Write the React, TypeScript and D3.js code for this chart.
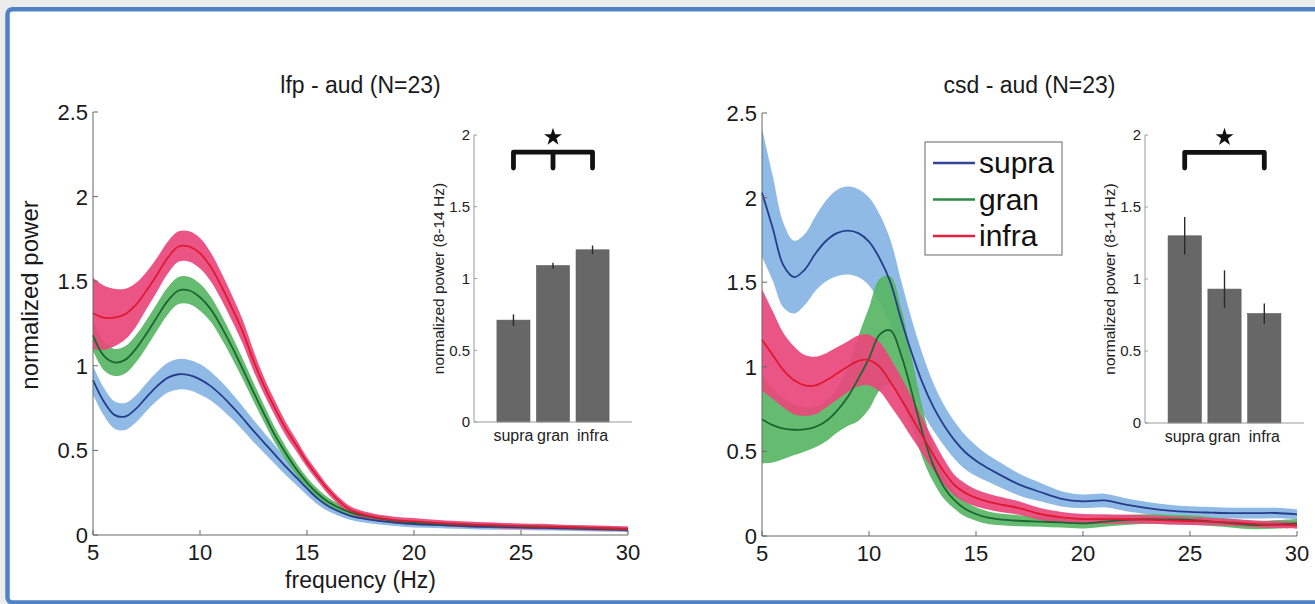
import React from 'react';
import * as d3 from 'd3';

// Frequency grid (Hz) shared by all spectra
const FREQ = [5, 5.5, 6, 6.5, 7, 7.5, 8, 8.5, 9, 9.5, 10, 10.5, 11, 11.5, 12, 12.5, 13, 13.5, 14, 14.5, 15, 15.5, 16, 17, 18, 19, 20, 21, 22, 23, 24, 25, 26, 27, 28, 29, 30];

// LFP normalized power, mean and s.e.m. per cortical layer
const LFP_SUPRA = [0.915, 0.79, 0.71, 0.7, 0.745, 0.815, 0.88, 0.93, 0.95, 0.945, 0.92, 0.88, 0.825, 0.76, 0.69, 0.615, 0.545, 0.475, 0.405, 0.34, 0.275, 0.215, 0.17, 0.115, 0.09, 0.075, 0.065, 0.06, 0.055, 0.05, 0.048, 0.045, 0.042, 0.04, 0.037, 0.034, 0.03];
const LFP_SUPRA_SEM = [0.085, 0.082, 0.08, 0.08, 0.08, 0.082, 0.085, 0.088, 0.09, 0.09, 0.09, 0.085, 0.08, 0.075, 0.07, 0.065, 0.06, 0.055, 0.05, 0.045, 0.04, 0.035, 0.03, 0.025, 0.022, 0.02, 0.02, 0.018, 0.018, 0.017, 0.017, 0.016, 0.016, 0.015, 0.015, 0.015, 0.015];
const LFP_GRAN = [1.18, 1.06, 1.02, 1.035, 1.1, 1.19, 1.29, 1.385, 1.445, 1.445, 1.405, 1.335, 1.23, 1.11, 0.98, 0.845, 0.715, 0.59, 0.485, 0.39, 0.31, 0.245, 0.195, 0.135, 0.105, 0.085, 0.075, 0.068, 0.062, 0.058, 0.055, 0.05, 0.048, 0.045, 0.042, 0.038, 0.035];
const LFP_GRAN_SEM = [0.09, 0.085, 0.08, 0.08, 0.08, 0.08, 0.08, 0.08, 0.08, 0.08, 0.08, 0.075, 0.07, 0.065, 0.06, 0.055, 0.05, 0.045, 0.04, 0.035, 0.03, 0.028, 0.025, 0.02, 0.018, 0.016, 0.015, 0.014, 0.014, 0.013, 0.013, 0.012, 0.012, 0.012, 0.012, 0.012, 0.012];
const LFP_INFRA = [1.31, 1.285, 1.285, 1.305, 1.36, 1.445, 1.54, 1.64, 1.705, 1.705, 1.665, 1.585, 1.47, 1.34, 1.2, 1.03, 0.88, 0.75, 0.63, 0.53, 0.43, 0.345, 0.265, 0.15, 0.11, 0.09, 0.08, 0.072, 0.065, 0.06, 0.056, 0.052, 0.05, 0.046, 0.043, 0.04, 0.036];
const LFP_INFRA_SEM = [0.21, 0.19, 0.17, 0.15, 0.13, 0.11, 0.1, 0.095, 0.09, 0.09, 0.09, 0.085, 0.08, 0.075, 0.07, 0.06, 0.05, 0.045, 0.04, 0.035, 0.03, 0.028, 0.025, 0.022, 0.02, 0.02, 0.02, 0.018, 0.018, 0.017, 0.017, 0.016, 0.016, 0.015, 0.015, 0.015, 0.015];

// CSD normalized power, mean and s.e.m. per cortical layer
const CSD_SUPRA = [2.03, 1.82, 1.6, 1.53, 1.575, 1.67, 1.745, 1.79, 1.805, 1.79, 1.74, 1.64, 1.5, 1.28, 1.08, 0.905, 0.765, 0.655, 0.565, 0.495, 0.445, 0.405, 0.37, 0.305, 0.26, 0.22, 0.205, 0.21, 0.185, 0.165, 0.15, 0.142, 0.138, 0.135, 0.135, 0.136, 0.128];
const CSD_SUPRA_SEM = [0.38, 0.31, 0.25, 0.215, 0.21, 0.22, 0.24, 0.255, 0.26, 0.26, 0.26, 0.26, 0.25, 0.23, 0.2, 0.17, 0.14, 0.12, 0.11, 0.1, 0.09, 0.08, 0.075, 0.065, 0.055, 0.045, 0.04, 0.04, 0.038, 0.036, 0.035, 0.034, 0.033, 0.032, 0.032, 0.031, 0.03];
const CSD_GRAN = [0.69, 0.655, 0.635, 0.628, 0.63, 0.645, 0.68, 0.74, 0.82, 0.93, 1.05, 1.19, 1.215, 1.07, 0.85, 0.61, 0.42, 0.29, 0.21, 0.16, 0.13, 0.11, 0.1, 0.09, 0.085, 0.08, 0.075, 0.085, 0.095, 0.1, 0.098, 0.095, 0.085, 0.075, 0.065, 0.068, 0.075];
const CSD_GRAN_SEM = [0.26, 0.22, 0.18, 0.15, 0.13, 0.12, 0.12, 0.13, 0.17, 0.25, 0.3, 0.33, 0.32, 0.28, 0.2, 0.15, 0.1, 0.07, 0.05, 0.045, 0.04, 0.038, 0.035, 0.033, 0.03, 0.03, 0.03, 0.03, 0.03, 0.028, 0.028, 0.027, 0.026, 0.026, 0.025, 0.025, 0.025];
const CSD_INFRA = [1.16, 1.07, 0.98, 0.92, 0.89, 0.89, 0.92, 0.96, 1.0, 1.035, 1.04, 1.0, 0.91, 0.81, 0.7, 0.59, 0.48, 0.38, 0.3, 0.255, 0.225, 0.205, 0.19, 0.165, 0.13, 0.11, 0.1, 0.1, 0.1, 0.097, 0.092, 0.088, 0.085, 0.08, 0.072, 0.067, 0.063];
const CSD_INFRA_SEM = [0.3, 0.26, 0.22, 0.2, 0.18, 0.17, 0.16, 0.155, 0.15, 0.15, 0.15, 0.145, 0.14, 0.13, 0.12, 0.105, 0.09, 0.075, 0.06, 0.055, 0.05, 0.047, 0.045, 0.04, 0.035, 0.032, 0.03, 0.028, 0.026, 0.025, 0.024, 0.023, 0.022, 0.021, 0.02, 0.02, 0.02];

// Alpha-band (8-14 Hz) power per layer
const LAYERS = ['supra', 'gran', 'infra'];
const LFP_ALPHA = [0.71, 1.09, 1.2];
const LFP_ALPHA_SEM = [0.04, 0.02, 0.03];
const CSD_ALPHA = [1.3, 0.93, 0.76];
const CSD_ALPHA_SEM = [0.13, 0.13, 0.07];

// Tick values
const Y_TICKS = [0, 0.5, 1, 1.5, 2, 2.5];
const X_TICKS = [5, 10, 15, 20, 25, 30];
const INSET_TICKS = [0, 0.5, 1, 1.5, 2];

const FONT = '"Liberation Sans", Arial, Helvetica, sans-serif';

const STYLE: Record<string, { band: string; line: string; legend: string }> = {
  supra: { band: '#86b4e4', line: '#253d8b', legend: '#33469a' },
  gran: { band: '#58b564', line: '#1b6631', legend: '#2c8a46' },
  infra: { band: '#e9467c', line: '#df1a30', legend: '#e6203c' },
};

type Series = { key: string; mean: number[]; sem: number[] };

function Spectrum({
  x0, x1, yBottom, yTop, title, series, showXLabel, showYLabel,
}: {
  x0: number; x1: number; yBottom: number; yTop: number; title: string;
  series: Series[]; showXLabel: boolean; showYLabel: boolean;
}) {
  const x = d3.scaleLinear().domain([5, 30]).range([x0, x1]);
  const y = d3.scaleLinear().domain([0, 2.5]).range([yBottom, yTop]);
  const idx = d3.range(FREQ.length);
  const cx = (x0 + x1) / 2;
  const curve = d3.curveCatmullRom.alpha(0.5);

  const bandPath = (s: Series) =>
    d3.area<number>()
      .x((i) => x(FREQ[i]))
      .y0((i) => y(s.mean[i] - s.sem[i]))
      .y1((i) => y(s.mean[i] + s.sem[i]))
      .curve(curve)(idx) as string;
  const linePath = (s: Series) =>
    d3.line<number>()
      .x((i) => x(FREQ[i]))
      .y((i) => y(s.mean[i]))
      .curve(curve)(idx) as string;

  return (
    <g fontFamily={FONT}>
      <text x={cx} y={93} textAnchor="middle" fontSize={23} fill="#1a1a1a">{title}</text>
      {series.map((s) => (
        <path key={'b' + s.key} d={bandPath(s)} fill={STYLE[s.key].band} fillOpacity={0.92} />
      ))}
      {series.map((s) => (
        <path key={'l' + s.key} d={linePath(s)} fill="none" stroke={STYLE[s.key].line} strokeWidth={1.8} />
      ))}
      <line x1={x0} x2={x0} y1={yBottom} y2={yTop} stroke="#666" strokeWidth={1} />
      <line x1={x0} x2={x1} y1={yBottom} y2={yBottom} stroke="#666" strokeWidth={1} />
      {Y_TICKS.map((t) => (
        <g key={'y' + t}>
          <line x1={x0} x2={x0 + 5} y1={y(t)} y2={y(t)} stroke="#666" />
          <text x={x0 - 5} y={y(t)} dy="0.36em" textAnchor="end" fontSize={22} fill="#1a1a1a">{String(t)}</text>
        </g>
      ))}
      {X_TICKS.map((t) => (
        <g key={'x' + t}>
          <line x1={x(t)} x2={x(t)} y1={yBottom} y2={yBottom - 5} stroke="#666" />
          <text x={x(t)} y={yBottom + 25} textAnchor="middle" fontSize={22} fill="#1a1a1a">{String(t)}</text>
        </g>
      ))}
      {showXLabel && (
        <text x={cx} y={588} textAnchor="middle" fontSize={23} fill="#1a1a1a">frequency (Hz)</text>
      )}
      {showYLabel && (
        <text transform={`translate(38,295) rotate(-90)`} textAnchor="middle" fontSize={24} fill="#1a1a1a">normalized power</text>
      )}
    </g>
  );
}

function AlphaInset({
  x0, x1, yBottom, yTop, values, sems, bracket,
}: {
  x0: number; x1: number; yBottom: number; yTop: number;
  values: number[]; sems: number[]; bracket: string[];
}) {
  const y = d3.scaleLinear().domain([0, 2]).range([yBottom, yTop]);
  const xb = d3.scaleBand<string>().domain(LAYERS).range([x0, x1]).paddingInner(0.165).paddingOuter(0.58);
  const center = (k: string) => (xb(k) as number) + xb.bandwidth() / 2;
  const ends = [center(bracket[0]), center(bracket[bracket.length - 1])];
  const barTop = y(1.88);
  const barEnd = y(1.77);
  const starPath = d3.symbol().type(d3.symbolStar).size(100)() as string;
  const starX = (ends[0] + ends[1]) / 2;

  return (
    <g fontFamily={FONT}>
      {LAYERS.map((k, i) => (
        <rect key={k} x={xb(k)} y={y(values[i])} width={xb.bandwidth()} height={yBottom - y(values[i])} fill="#676767" stroke="#5a5a5a" strokeWidth={0.6} />
      ))}
      {LAYERS.map((k, i) => (
        <line key={'e' + k} x1={center(k)} x2={center(k)} y1={y(values[i] - sems[i])} y2={y(values[i] + sems[i])} stroke="#2a2a2a" strokeWidth={1.4} />
      ))}
      <line x1={x0} x2={x0} y1={yBottom} y2={yTop} stroke="#9a9a9a" />
      <line x1={x0} x2={x1} y1={yBottom} y2={yBottom} stroke="#9a9a9a" />
      {INSET_TICKS.map((t) => (
        <g key={t}>
          <line x1={x0} x2={x0 + 3} y1={y(t)} y2={y(t)} stroke="#9a9a9a" />
          <text x={x0 - 4} y={y(t)} dy="0.36em" textAnchor="end" fontSize={15} fill="#222">{String(t)}</text>
        </g>
      ))}
      {LAYERS.map((k) => (
        <text key={'c' + k} x={center(k)} y={yBottom + 19} textAnchor="middle" fontSize={16} fill="#222">{k}</text>
      ))}
      <text transform={`translate(${x0 - 30},${(yBottom + yTop) / 2}) rotate(-90)`} textAnchor="middle" fontSize={15.5} fill="#222">normalized power (8-14 Hz)</text>
      <path
        d={`M${ends[0]},${barEnd}V${barTop}H${ends[1]}V${barEnd}`}
        fill="none" stroke="#111" strokeWidth={4.8} strokeLinecap="round" strokeLinejoin="round"
      />
      {bracket.length > 2 && bracket.slice(1, -1).map((k) => (
        <line key={'m' + k} x1={center(k)} x2={center(k)} y1={barTop} y2={barEnd} stroke="#111" strokeWidth={4.8} strokeLinecap="round" />
      ))}
      <path d={starPath} transform={`translate(${starX},${barTop - 15})`} fill="#111" />
    </g>
  );
}

function Legend({ x, y }: { x: number; y: number }) {
  return (
    <g fontFamily={FONT}>
      <rect x={x} y={y} width={137} height={113} fill="#fff" stroke="#666" strokeWidth={1} />
      {LAYERS.map((k, i) => (
        <g key={k}>
          <line x1={x + 8} x2={x + 50} y1={y + 21 + i * 36.5} y2={y + 21 + i * 36.5} stroke={STYLE[k].legend} strokeWidth={2.5} />
          <text x={x + 54} y={y + 31 + i * 36.5} fontSize={30} fill="#111">{k}</text>
        </g>
      ))}
    </g>
  );
}

export default function App() {
  const lfp: Series[] = [
    { key: 'supra', mean: LFP_SUPRA, sem: LFP_SUPRA_SEM },
    { key: 'gran', mean: LFP_GRAN, sem: LFP_GRAN_SEM },
    { key: 'infra', mean: LFP_INFRA, sem: LFP_INFRA_SEM },
  ];
  const csd: Series[] = [
    { key: 'supra', mean: CSD_SUPRA, sem: CSD_SUPRA_SEM },
    { key: 'gran', mean: CSD_GRAN, sem: CSD_GRAN_SEM },
    { key: 'infra', mean: CSD_INFRA, sem: CSD_INFRA_SEM },
  ];
  return (
    <svg width={1315} height={604} style={{ position: 'absolute', left: 0, top: 0, display: 'block' }}>
      <rect x={0} y={0} width={1315} height={604} fill="#ececec" />
      <rect x={7.5} y={9.2} width={1340} height={593.3} rx={5} fill="#fff" stroke="#4f83c6" strokeWidth={4.5} />
      <Spectrum x0={93} x1={628} yBottom={535} yTop={112} title="lfp - aud (N=23)" series={lfp} showXLabel showYLabel />
      <Spectrum x0={762} x1={1297} yBottom={536} yTop={113} title="csd - aud (N=23)" series={csd} showXLabel={false} showYLabel={false} />
      <AlphaInset x0={474} x1={632} yBottom={422} yTop={135} values={LFP_ALPHA} sems={LFP_ALPHA_SEM} bracket={['supra', 'gran', 'infra']} />
      <AlphaInset x0={1145} x1={1304} yBottom={423} yTop={135} values={CSD_ALPHA} sems={CSD_ALPHA_SEM} bracket={['supra', 'infra']} />
      <Legend x={925} y={142} />
    </svg>
  );
}
